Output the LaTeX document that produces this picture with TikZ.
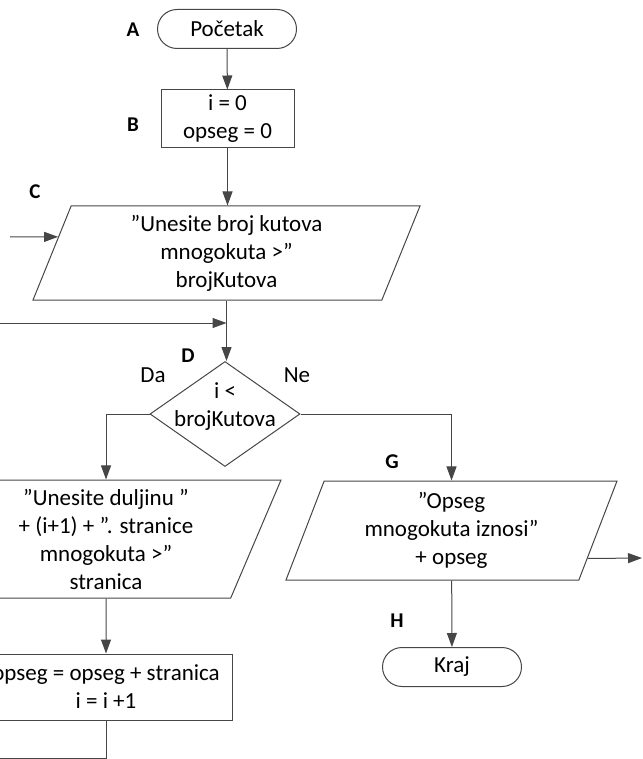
\documentclass[tikz,border=0pt]{standalone}
\usepackage{fontspec}
\setmainfont{Carlito}
\usetikzlibrary{positioning, arrows.meta, shapes.geometric, calc}
\definecolor{lncol}{RGB}{70,70,70}
\tikzset{
  term/.style={rectangle, draw=lncol, line width=0.5pt, rounded corners=9.75pt, align=center,
               minimum width=69.5pt, minimum height=19.5pt, inner sep=0pt},
  proc/.style={rectangle, draw=lncol, line width=0.5pt, align=center, inner sep=0pt},
  io/.style={trapezium, trapezium left angle=63.4, trapezium right angle=116.6,
             trapezium stretches body, draw=lncol, line width=0.5pt, align=center, inner sep=0pt},
  dec/.style={diamond, draw=lncol, line width=0.5pt, align=center, inner sep=-8pt,
              text depth=9pt, minimum width=75pt, minimum height=52.5pt},
  lbl/.style={font=\fontsize{10.5}{12}\selectfont\bfseries},
  arr/.style={-{Triangle[length=7pt, width=5pt]}, draw=lncol, line width=0.5pt},
}
\begin{document}
\begin{tikzpicture}[x=0.5pt, y=-0.5pt, font=\fontsize{11.5}{14}\selectfont]
  \useasboundingbox (0,0) rectangle (642,759);
  \clip (0,0) rectangle (642,759);
  % blocks
  \node[term] (A) at (227,29) {Početak};
  \node[proc, minimum width=66.5pt, minimum height=29pt] (B) at (227.5,119) {i = 0\\opseg = 0};
  \node[io, minimum width=193.5pt, minimum height=47pt] (C) at (226.5,253)
    {”Unesite broj kutova\\mnogokuta >”\\brojKutova};
  \node[dec] (D) at (225,414) {i <\\brojKutova};
  \node[io, minimum width=175pt, minimum height=59pt] (E) at (106,539)
    {”Unesite duljinu ”\\+ (i+1) + ”. stranice\\mnogokuta >”\\stranica};
  \node[proc, minimum width=126pt, minimum height=33pt] (F) at (106,687) {opseg = opseg + stranica\\i = i +1};
  \node[io, minimum width=165.5pt, minimum height=49.5pt] (G) at (451.5,530.5)
    {”Opseg\\mnogokuta iznosi”\\+ opseg};
  \node[term] (H) at (452,667) {Kraj};
  % letters
  \node[lbl] (labA) at (133,30) {A};
  \node[lbl] (labB) at (133,125) {B};
  \node[lbl] (labC) at (35,192) {C};
  \node[lbl] (labD) at (188,356) {D};
  \node[lbl] (labG) at (392,462) {G};
  \node[lbl] (labH) at (397,621) {H};
  \node (da) at (153,375) {Da};
  \node (ne) at (297,375) {Ne};
  % free ends
  \coordinate (inC) at (10,237);
  \coordinate (Cin) at ($(C.bottom left corner)!0.67!(C.top left corner)$);
  \coordinate (Gout) at ($(G.bottom right corner)!0.22!(G.top right corner)$);
  \coordinate (outG) at (642,558);
  \coordinate (join) at (C.south |- 0,323);
  \coordinate (loopL) at (-20,758);
  % connectors
  \draw[arr] (A) -- (B);
  \draw[arr] (B.south) -- (B.south |- C.north);
  \draw[arr] (C.south) -- (C.south |- D.north);
  \draw[arr] (inC) -- (Cin);
  \draw[arr] (D.west) -| (E.north);
  \draw[arr] (D.east) -| (G.north);
  \draw[arr] (E) -- (F);
  \draw[arr] (G) -- (H);
  \draw[arr] (Gout) -- (outG);
  \draw[arr] (F.south) |- (loopL) |- (join);
\end{tikzpicture}
\end{document}
